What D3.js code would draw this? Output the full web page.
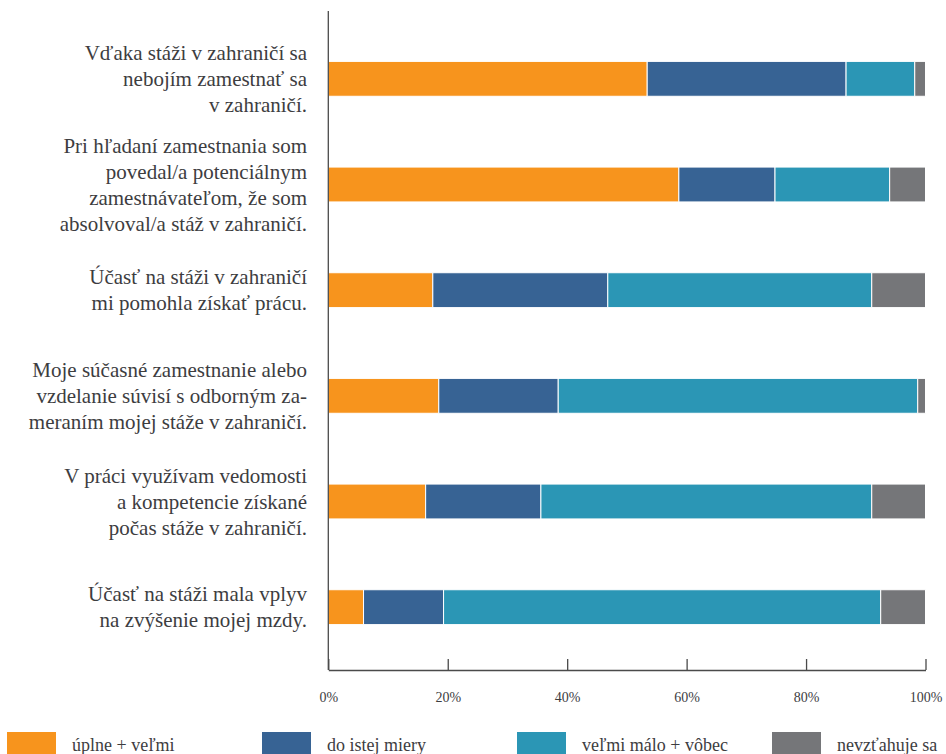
<!DOCTYPE html>
<html>
<head>
<meta charset="utf-8">
<script src="https://cdn.jsdelivr.net/npm/d3@7"></script>
<style>
  html, body { margin: 0; padding: 0; background: #fff; }
  svg { display: block; }
  text { font-family: 'Liberation Serif', 'Times New Roman', serif; }
</style>
</head>
<body>
<svg id="chart" width="946" height="754"></svg>
<script>
// ---- data ----
const categories = [
  "Vďaka stáži v zahraničí sa\nnebojím zamestnať sa\nv zahraničí.",
  "Pri hľadaní zamestnania som\npovedal/a potenciálnym\nzamestnávateľom, že som\nabsolvoval/a stáž v zahraničí.",
  "Účasť na stáži v zahraničí\nmi pomohla získať prácu.",
  "Moje súčasné zamestnanie alebo\nvzdelanie súvisí s odborným za-\nmeraním mojej stáže v zahraničí.",
  "V práci využívam vedomosti\na kompetencie získané\npočas stáže v zahraničí.",
  "Účasť na stáži mala vplyv\nna zvýšenie mojej mzdy."
];
const seriesNames = ["úplne + veľmi", "do istej miery", "veľmi málo + vôbec", "nevzťahuje sa"];
const uplneVelmi      = [53.4, 58.7, 17.5, 18.5, 16.3, 5.9];
const doIstejMiery    = [33.3, 16.1, 29.3, 20.0, 19.3, 13.4];
const velmiMaloVobec  = [11.5, 19.2, 44.2, 60.2, 55.4, 73.2];
const nevztahujeSa    = [1.8, 6.0, 9.0, 1.3, 9.0, 7.5];
const xTicks = [0, 20, 40, 60, 80, 100];
const xTickLabels = ["0%", "20%", "40%", "60%", "80%", "100%"];
const colors = ["#F7941D", "#376394", "#2B96B5", "#757679"];

// ---- build ----
const seriesValues = [uplneVelmi, doIstejMiery, velmiMaloVobec, nevztahujeSa];
const rows = categories.map((c, i) => {
  const o = { cat: c };
  seriesNames.forEach((s, j) => { o[s] = seriesValues[j][i]; });
  return o;
});
const stacked = d3.stack().keys(seriesNames)(rows);

const svg = d3.select("#chart");
const textColor = "#3d3d3f";

const x = d3.scaleLinear().domain([0, 100]).range([328.3, 925.5]);
const y = d3.scaleBand().domain(categories).range([26, 660]).paddingInner(0.67).paddingOuter(0.335);
const color = d3.scaleOrdinal().domain(seriesNames).range(colors);

// bars
svg.append("g").selectAll("g")
  .data(stacked).join("g")
  .attr("fill", d => color(d.key))
  .selectAll("rect")
  .data(d => d).join("rect")
  .attr("x", d => x(d[0]))
  .attr("y", d => y(d.data.cat))
  .attr("width", d => Math.max(0, x(d[1]) - x(d[0])))
  .attr("height", y.bandwidth())
  .attr("stroke", "#fff")
  .attr("stroke-width", 1);

// x axis
const xAxis = d3.axisBottom(x)
  .tickValues(xTicks)
  .tickFormat((d, i) => xTickLabels[i])
  .tickSizeInner(-11)
  .tickSizeOuter(0)
  .tickPadding(22);
const gx = svg.append("g").attr("transform", "translate(0,670)").call(xAxis);
gx.attr("font-family", null);
gx.select(".domain").attr("stroke", "#4a4a4a").attr("stroke-width", 1.3);
gx.selectAll(".tick line").attr("stroke", "#4a4a4a").attr("stroke-width", 1.3);
gx.selectAll(".tick text")
  .style("font-family", "'Liberation Serif', serif")
  .style("font-size", "14px")
  .attr("fill", textColor);

// y axis line
svg.append("line")
  .attr("x1", x(0)).attr("x2", x(0))
  .attr("y1", 11).attr("y2", 670)
  .attr("stroke", "#4a4a4a").attr("stroke-width", 1.3);

// category labels
const lineH = 26;
svg.append("g").selectAll("text")
  .data(categories).join("text")
  .style("font-family", "'Liberation Serif', serif")
  .style("font-size", "21px")
  .attr("fill", textColor)
  .attr("text-anchor", "end")
  .each(function(d) {
    const lines = d.split("\n");
    const cy = y(d) + y.bandwidth() / 2;
    const t = d3.select(this);
    lines.forEach((ln, k) => {
      t.append("tspan")
        .attr("x", 307)
        .attr("y", cy + (k - (lines.length - 1) / 2) * lineH + 7)
        .text(ln);
    });
  });

// legend
const lg = svg.append("g").selectAll("g")
  .data(seriesNames).join("g")
  .attr("transform", (d, i) => `translate(${7 + i * 255},732)`);
lg.append("rect")
  .attr("width", 49).attr("height", 26)
  .attr("fill", d => color(d));
lg.append("text")
  .attr("x", 65).attr("y", 18.5)
  .style("font-family", "'Liberation Serif', serif")
  .style("font-size", "18px")
  .attr("fill", textColor)
  .text(d => d);
</script>
</body>
</html>
